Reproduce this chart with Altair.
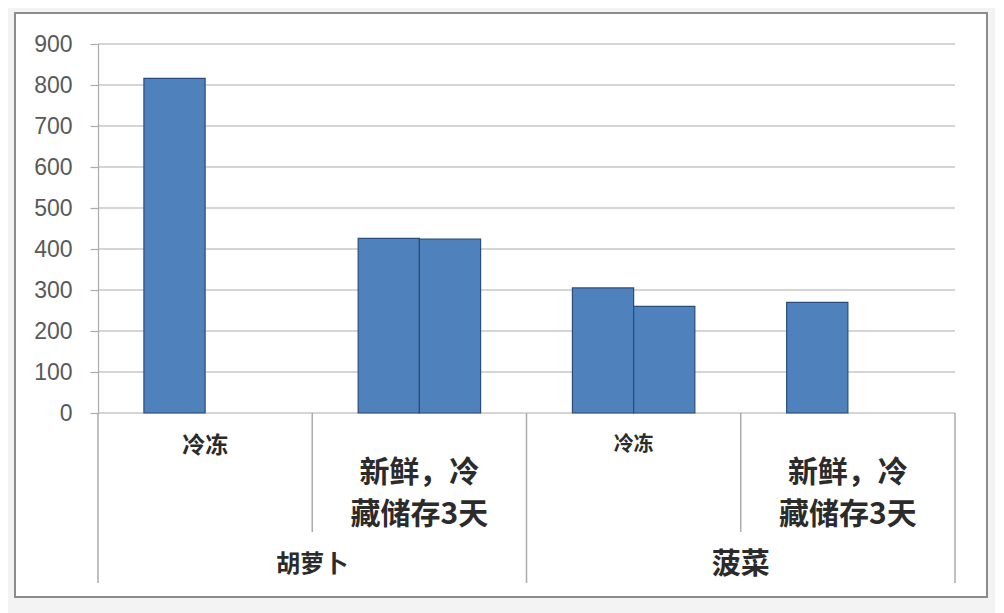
import altair as alt
import pandas as pd

# ---- data ----
vegetables = ["胡萝卜", "胡萝卜", "菠菜", "菠菜"]
storage = ["冷冻", "新鲜，冷藏储存3天", "冷冻", "新鲜，冷藏储存3天"]
series_names = ["系列1", "系列2"]
series_1 = [816, 426, 305, 270]
series_2 = [None, 424, 260, None]
y_ticks = [0, 100, 200, 300, 400, 500, 600, 700, 800, 900]

keys = [f"{v}|{s}" for v, s in zip(vegetables, storage)]

rows = []
for k, v, s, a, b in zip(keys, vegetables, storage, series_1, series_2):
    for name, val in zip(series_names, [a, b]):
        if val is not None:
            rows.append({"key": k, "veg": v, "storage": s, "series": name, "value": val})
bars_df = pd.DataFrame(rows)
cats_df = pd.DataFrame({"key": keys, "veg": vegetables, "storage": storage})
ticks_df = pd.DataFrame({"tick": y_ticks})

GRID = "#ABABAB"
TEXT = "#2B2B2B"
CJK = "Noto Sans CJK SC"
WEIGHT = 600

yscale = alt.Scale(domain=[0, 900], nice=False)
yaxis = alt.Axis(values=y_ticks, title=None, grid=False, zindex=1,
                 domainColor=GRID, tickColor=GRID, tickSize=8,
                 domainWidth=1.2, tickWidth=1.2,
                 labelPadding=18, labelFont="Liberation Sans",
                 labelFontSize=23, labelColor="#595959")


def xenc(**kw):
    return alt.X("key:N", scale=alt.Scale(domain=keys, paddingInner=0, paddingOuter=0),
                 axis=None, **kw)


frame = alt.Chart(alt.Data(values=[{}])).mark_rect(
    fill="white", stroke="#8C8C8C", strokeWidth=2
).encode(x=alt.value(-83), x2=alt.value(889), y=alt.value(-31), y2=alt.value(553))

grid = alt.Chart(ticks_df).mark_rule(color=GRID, strokeWidth=1.2).encode(
    x=alt.value(0), x2=alt.value(857),
    y=alt.Y("tick:Q", scale=yscale, axis=yaxis),
)

bars = alt.Chart(bars_df).mark_bar(
    fill="#4F81BD", stroke="#2A4D7A", strokeWidth=1.2
).encode(
    x=xenc(),
    xOffset=alt.XOffset("series:N", sort=series_names,
                        scale=alt.Scale(paddingInner=0, paddingOuter=0.75)),
    y=alt.Y("value:Q", scale=yscale, axis=yaxis),
)

base = alt.Chart(cats_df)

short_rules = base.transform_filter(alt.datum.storage != "冷冻").mark_rule(
    color=GRID, strokeWidth=1.5
).encode(x=xenc(bandPosition=0), y=alt.value(369), y2=alt.value(488))

long_rules = base.transform_filter(alt.datum.storage == "冷冻").mark_rule(
    color=GRID, strokeWidth=1.5
).encode(x=xenc(bandPosition=0), y=alt.value(369), y2=alt.value(539))

end_rule = base.transform_filter(alt.datum.key == keys[-1]).mark_rule(
    color=GRID, strokeWidth=1.5
).encode(x=xenc(bandPosition=1), y=alt.value(369), y2=alt.value(539))

frozen_1 = base.transform_filter(alt.datum.key == keys[0]).mark_text(
    font=CJK, fontSize=23, fontWeight=WEIGHT, color=TEXT, baseline="middle"
).encode(x=xenc(), y=alt.value(402), text="storage:N")

frozen_2 = base.transform_filter(alt.datum.key == keys[2]).mark_text(
    font=CJK, fontSize=20, fontWeight=WEIGHT, color=TEXT, baseline="middle"
).encode(x=xenc(), y=alt.value(401), text="storage:N")

fresh = base.transform_filter(alt.datum.storage != "冷冻").transform_calculate(
    label="substring(datum.storage, 0, 4) + '\\n' + substring(datum.storage, 4)"
).mark_text(
    font=CJK, fontSize=30, fontWeight=WEIGHT, color=TEXT, baseline="middle",
    lineBreak="\n", lineHeight=42
).encode(x=xenc(), y=alt.value(429), text="label:N")

veg_1 = base.transform_filter(alt.datum.key == keys[0]).mark_text(
    font=CJK, fontSize=24, fontWeight=WEIGHT, color=TEXT, baseline="middle"
).encode(x=xenc(bandPosition=1), y=alt.value(521), text="veg:N")

veg_2 = base.transform_filter(alt.datum.key == keys[2]).mark_text(
    font=CJK, fontSize=29, fontWeight=WEIGHT, color=TEXT, baseline="middle"
).encode(x=xenc(bandPosition=1), y=alt.value(521), text="veg:N")

chart = alt.layer(
    frame, grid, bars, short_rules, long_rules, end_rule,
    frozen_1, frozen_2, fresh, veg_1, veg_2
).properties(
    width=857, height=369,
    padding={"left": 90, "top": 36, "right": 40, "bottom": 200},
    autosize=alt.AutoSizeParams(type="none"),
    background="#F3F3F3",
).configure_view(stroke=None)

chart.save("out.html", embed_options={"renderer": "svg", "actions": False})
